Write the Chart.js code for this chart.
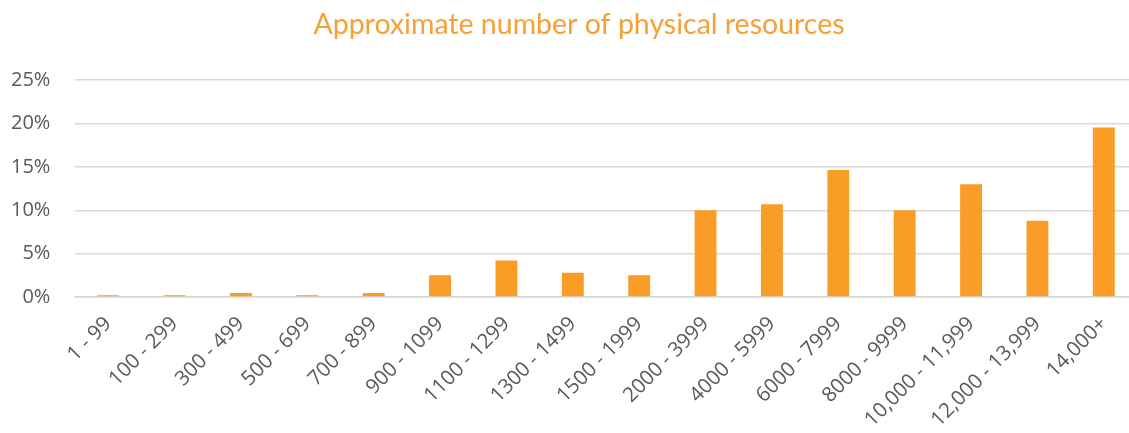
<!DOCTYPE html>
<html>
<head>
<meta charset="utf-8">
<script src="https://cdn.jsdelivr.net/npm/chart.js@4"></script>
<style>
  html, body { margin: 0; padding: 0; background: #fff; overflow: hidden; }
  #wrap { position: relative; width: 1179px; height: 433px; }
</style>
</head>
<body>
<div id="wrap"><canvas id="myChart"></canvas></div>
<script>
const categorias = ['1 - 99', '100 - 299', '300 - 499', '500 - 699', '700 - 899', '900 - 1099',
  '1100 - 1299', '1300 - 1499', '1500 - 1999', '2000 - 3999', '4000 - 5999', '6000 - 7999',
  '8000 - 9999', '10,000 - 11,999', '12,000 - 13,999', '14,000+'];
const porcentajes = [0.2, 0.2, 0.45, 0.2, 0.45, 2.5, 4.2, 2.8, 2.5, 10.0, 10.7, 14.65, 10.0, 13.0, 8.8, 19.55];
const ticksY = [0, 5, 10, 15, 20, 25];

const naranja = '#f99d27';
const gris = '#595959';

const ctx = document.getElementById('myChart').getContext('2d');
const myChart = new Chart(ctx, {
  type: 'bar',
  data: {
    labels: categorias,
    datasets: [{
      data: porcentajes,
      backgroundColor: naranja,
      categoryPercentage: 1,
      barPercentage: 0.33
    }]
  },
  options: {
    responsive: true,
    maintainAspectRatio: false,
    animation: false,
    layout: { padding: { left: 21, right: 42, top: 0, bottom: 0 } },
    plugins: {
      legend: { display: false },
      tooltip: { enabled: false },
      title: {
        display: true,
        text: 'Approximate number of physical resources',
        color: '#f7a035',
        font: { family: 'Lato', size: 28.5, weight: 'normal' },
        padding: { top: 8, bottom: 38 }
      }
    },
    scales: {
      x: {
        grid: { display: false, drawTicks: false },
        border: { color: '#d9d9d9', width: 1.5 },
        ticks: {
          color: gris,
          font: { family: 'Open Sans', size: 20.5 },
          minRotation: 45,
          maxRotation: 45,
          padding: 15,
          autoSkip: false
        },
        afterFit: function(scale) { scale.height = 136; }
      },
      y: {
        min: 0,
        max: 25,
        afterBuildTicks: function(scale) { scale.ticks = ticksY.map(v => ({ value: v })); },
        grid: { color: '#d9d9d9', lineWidth: 1.5, drawTicks: false },
        border: { display: false },
        ticks: {
          color: gris,
          font: { family: 'Open Sans', size: 20 },
          // mirror evita el recorte de etiquetas; se desplazan a la izquierda
          mirror: true,
          crossAlign: 'far',
          padding: -64,
          callback: function(v) { return v + '%'; }
        },
        afterFit: function(scale) { scale.width = 54; }
      }
    }
  }
});
</script>
</body>
</html>
